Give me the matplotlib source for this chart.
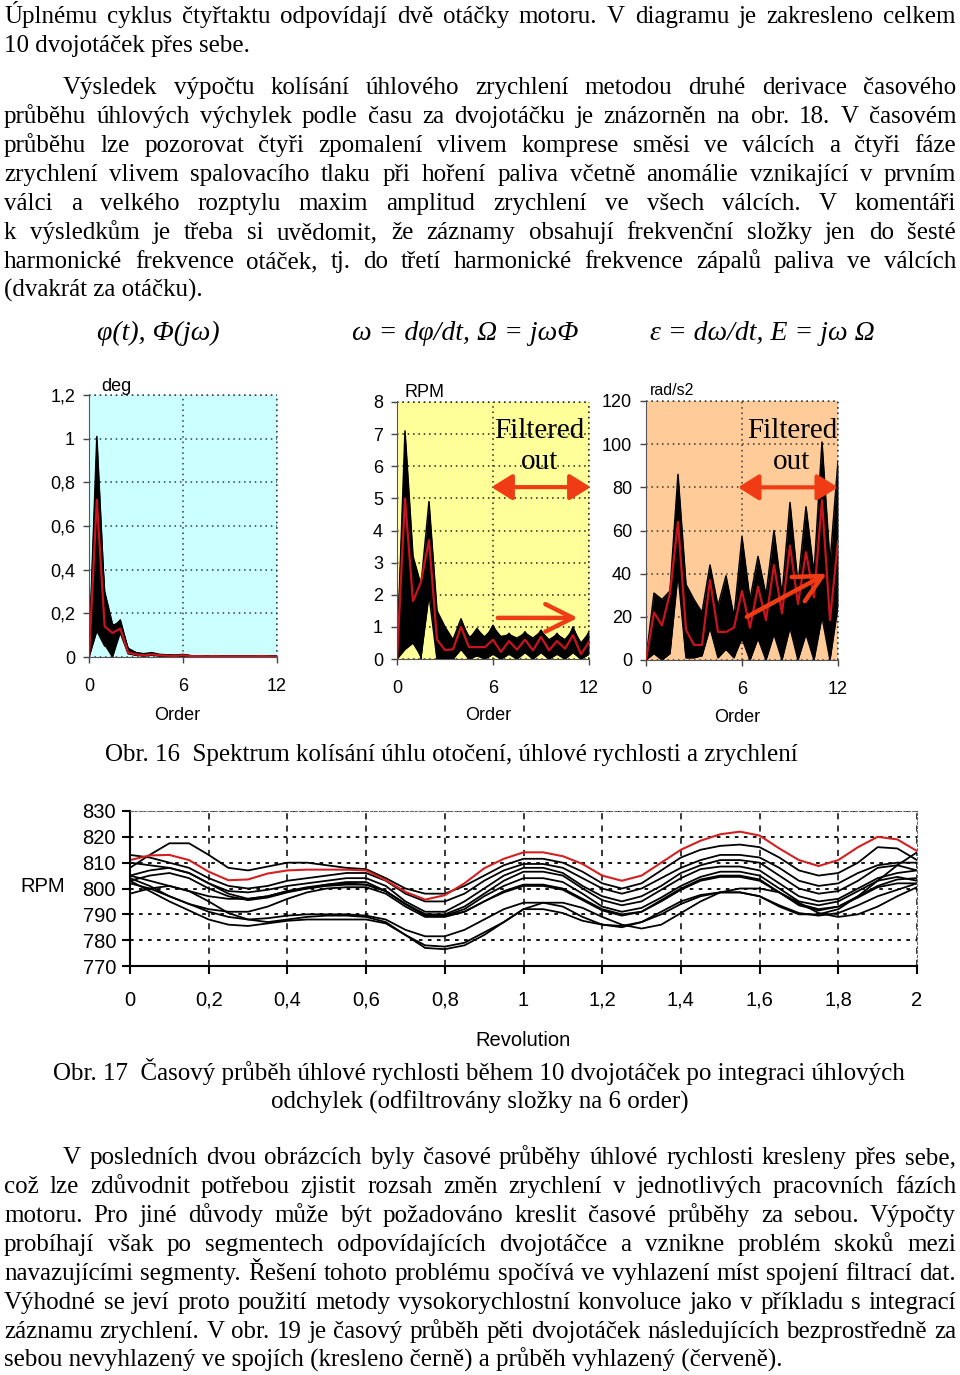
import matplotlib
matplotlib.use("Agg")
import matplotlib.pyplot as plt
import numpy as np

W, H = 960, 1375
SERIF = ["Liberation Serif", "DejaVu Serif"]
SANS = ["Liberation Sans", "DejaVu Sans"]

# ---- page text ----
para1 = [
    "Úplnému cyklus čtyřtaktu odpovídají dvě otáčky motoru. V diagramu je zakresleno celkem",
    "10 dvojotáček přes sebe.",
]
para2 = [
    "Výsledek výpočtu kolísání úhlového zrychlení metodou druhé derivace časového",
    "průběhu úhlových výchylek podle času za dvojotáčku je znázorněn na obr. 18. V časovém",
    "průběhu lze pozorovat čtyři zpomalení vlivem komprese směsi ve válcích a čtyři fáze",
    "zrychlení vlivem spalovacího tlaku při hoření paliva včetně anomálie vznikající v prvním",
    "válci a velkého rozptylu maxim amplitud zrychlení ve všech válcích. V komentáři",
    "k výsledkům je třeba si uvědomit, že záznamy obsahují frekvenční složky jen do šesté",
    "harmonické frekvence otáček, tj. do třetí harmonické frekvence zápalů paliva ve válcích",
    "(dvakrát za otáčku).",
]
para3 = [
    "V posledních dvou obrázcích byly časové průběhy úhlové rychlosti kresleny přes sebe,",
    "což lze zdůvodnit potřebou zjistit rozsah změn zrychlení v jednotlivých pracovních fázích",
    "motoru. Pro jiné důvody může být požadováno kreslit časové průběhy za sebou. Výpočty",
    "probíhají však po segmentech odpovídajících dvojotáčce a vznikne problém skoků mezi",
    "navazujícími segmenty. Řešení tohoto problému spočívá ve vyhlazení míst spojení filtrací dat.",
    "Výhodné se jeví proto použití metody vysokorychlostní konvoluce jako v příkladu s integrací",
    "záznamu zrychlení. V obr. 19 je časový průběh pěti dvojotáček následujících bezprostředně za",
    "sebou nevyhlazený ve spojích (kresleno černě) a průběh vyhlazený (červeně).",
]
formulas = ["φ(t), Φ(jω)", "ω = dφ/dt, Ω = jωΦ", "ε = dω/dt, E = jω Ω"]
caption16 = "Obr. 16  Spektrum kolísání úhlu otočení, úhlové rychlosti a zrychlení"
caption17 = ["Obr. 17  Časový průběh úhlové rychlosti během 10 dvojotáček po integraci úhlových",
             "odchylek (odfiltrovány složky na 6 order)"]

# ---- spectra data (order 0..12, step 0.5) ----
orders = np.arange(0, 12.5, 0.5)

deg_red = [0, 0.72, 0.14, 0.11, 0.13, 0.02, 0.012, 0.008, 0.012, 0.008, 0.006, 0.005, 0.008,
           0.004, 0.004, 0.003, 0.004, 0.003, 0.003, 0.003, 0.003, 0.003, 0.004, 0.003, 0.002]
deg_black = [
    [0, 1.01, 0.26, 0.13, 0.17, 0.035, 0.02, 0.015, 0.02, 0.012, 0.01, 0.008, 0.012,
     0.006, 0.005, 0.004, 0.006, 0.004, 0.004, 0.003, 0.004, 0.004, 0.006, 0.004, 0.003],
    [0, 0.93, 0.2, 0.01, 0.15, 0.03, 0.015, 0.01, 0.018, 0.01, 0.008, 0.006, 0.01,
     0.005, 0.004, 0.004, 0.005, 0.003, 0.003, 0.003, 0.003, 0.003, 0.005, 0.003, 0.002],
    [0, 0.85, 0.1, 0.02, 0.12, 0.025, 0.012, 0.01, 0.015, 0.01, 0.006, 0.006, 0.009,
     0.004, 0.004, 0.003, 0.004, 0.003, 0.003, 0.002, 0.003, 0.003, 0.004, 0.003, 0.002],
    [0, 0.78, 0.3, 0.15, 0.14, 0.04, 0.02, 0.012, 0.016, 0.01, 0.008, 0.007, 0.01,
     0.005, 0.005, 0.004, 0.005, 0.004, 0.003, 0.003, 0.004, 0.003, 0.005, 0.004, 0.003],
    [0, 0.66, 0.06, 0.0, 0.13, 0.02, 0.01, 0.008, 0.012, 0.008, 0.005, 0.005, 0.007,
     0.004, 0.003, 0.003, 0.004, 0.002, 0.002, 0.002, 0.002, 0.002, 0.003, 0.002, 0.002],
    [0, 0.52, 0.22, 0.06, 0.16, 0.03, 0.015, 0.01, 0.014, 0.009, 0.007, 0.006, 0.009,
     0.005, 0.004, 0.003, 0.005, 0.003, 0.003, 0.003, 0.003, 0.003, 0.004, 0.003, 0.002],
    [0, 0.38, 0.16, 0.02, 0.12, 0.025, 0.012, 0.008, 0.012, 0.008, 0.006, 0.005, 0.008,
     0.004, 0.003, 0.003, 0.004, 0.003, 0.002, 0.002, 0.003, 0.002, 0.004, 0.003, 0.002],
    [0, 0.22, 0.12, 0.09, 0.14, 0.02, 0.01, 0.008, 0.01, 0.007, 0.005, 0.004, 0.006,
     0.003, 0.003, 0.002, 0.003, 0.002, 0.002, 0.002, 0.002, 0.002, 0.003, 0.002, 0.001],
    [0, 0.16, 0.08, 0.01, 0.13, 0.02, 0.01, 0.006, 0.01, 0.006, 0.004, 0.004, 0.006,
     0.003, 0.002, 0.002, 0.003, 0.002, 0.002, 0.001, 0.002, 0.002, 0.003, 0.002, 0.001],
    [0, 0.12, 0.05, 0.12, 0.11, 0.015, 0.008, 0.005, 0.008, 0.005, 0.004, 0.003, 0.005,
     0.002, 0.002, 0.002, 0.003, 0.002, 0.001, 0.001, 0.002, 0.001, 0.002, 0.002, 0.001],
]

rpm_red = [0, 5.0, 1.8, 2.4, 3.7, 0.6, 0.28, 0.3, 1.0, 0.37, 0.37, 0.37, 0.6,
           0.22, 0.56, 0.29, 0.6, 0.27, 0.69, 0.27, 0.56, 0.32, 0.74, 0.15, 0.53]
rpm_black = [
    [0, 7.1, 3.2, 2.3, 4.9, 1.5, 1.0, 0.6, 1.25, 0.6, 0.95, 0.6, 1.05,
     0.5, 0.8, 0.5, 0.85, 0.45, 0.9, 0.45, 0.8, 0.4, 1.0, 0.35, 0.85],
    [0, 6.4, 2.6, 0.3, 4.5, 1.2, 0.8, 0.5, 1.1, 0.7, 0.7, 0.7, 0.95,
     0.7, 0.75, 0.65, 0.8, 0.65, 0.85, 0.6, 0.75, 0.6, 0.9, 0.5, 0.8],
    [0, 5.8, 1.0, 2.0, 4.2, 0.9, 0.6, 0.4, 0.9, 0.4, 0.5, 0.45, 0.8,
     0.35, 0.65, 0.35, 0.65, 0.35, 0.75, 0.3, 0.65, 0.3, 0.85, 0.2, 0.6],
    [0, 5.0, 2.2, 0.0, 3.9, 0.5, 0.3, 0.2, 0.8, 0.3, 0.4, 0.3, 0.6,
     0.2, 0.5, 0.2, 0.5, 0.2, 0.55, 0.2, 0.5, 0.2, 0.6, 0.1, 0.45],
    [0, 4.0, 0.6, 1.5, 3.5, 0.3, 0.1, 0.1, 0.6, 0.15, 0.3, 0.2, 0.4,
     0.1, 0.35, 0.1, 0.4, 0.1, 0.45, 0.1, 0.4, 0.1, 0.5, 0.05, 0.35],
    [0, 2.5, 1.4, 0.4, 4.0, 0.1, 0.05, 0.05, 0.45, 0.1, 0.2, 0.1, 0.3,
     0.05, 0.25, 0.05, 0.3, 0.05, 0.35, 0.05, 0.3, 0.05, 0.35, 0.02, 0.25],
    [0, 1.0, 0.8, 1.0, 3.0, 0.05, 0.0, 0.0, 0.35, 0.05, 0.15, 0.05, 0.2,
     0.02, 0.2, 0.02, 0.25, 0.02, 0.25, 0.02, 0.2, 0.02, 0.3, 0.0, 0.2],
    [0, 0.3, 0.5, 0.1, 2.0, 0.0, 0.0, 0.0, 0.3, 0.0, 0.1, 0.0, 0.15,
     0.0, 0.15, 0.0, 0.2, 0.0, 0.2, 0.0, 0.15, 0.0, 0.2, 0.0, 0.15],
]

acc_red = [0, 22, 16, 31, 64, 14, 7, 7, 37, 13, 13, 15, 32,
           15, 34, 18.5, 44, 21.6, 53, 26, 50, 29, 74, 18.5, 55]
acc_black = [
    [0, 31, 28, 32, 86, 35, 28, 22, 44, 25, 39, 20, 57, 28, 48, 30, 60, 30, 73, 35, 71, 40, 101, 45, 92],
    [0, 25, 20, 28, 78, 20, 15, 10, 40, 15, 30, 12, 48, 10, 42, 15, 52, 12, 65, 15, 62, 20, 90, 20, 80],
    [0, 22, 10, 30, 70, 12, 8, 6, 36, 10, 22, 8, 40, 6, 36, 8, 45, 8, 55, 8, 52, 12, 80, 10, 70],
    [0, 18, 25, 20, 65, 10, 20, 5, 30, 12, 15, 5, 32, 4, 30, 5, 38, 5, 48, 5, 45, 6, 70, 5, 60],
    [0, 12, 5, 15, 58, 5, 5, 3, 25, 5, 10, 3, 25, 2, 24, 3, 30, 3, 40, 3, 38, 3, 60, 3, 50],
    [0, 8, 15, 10, 50, 3, 3, 2, 20, 3, 8, 2, 18, 1, 18, 1, 22, 1, 30, 1, 28, 2, 45, 2, 40],
    [0, 5, 2, 5, 45, 2, 2, 3, 16, 2, 5, 1, 12, 0, 12, 1, 15, 1, 20, 1, 18, 1, 30, 1, 30],
    [0, 3, 0, 3, 40, 1, 1, 2, 15, 1, 5, 2, 10, 0, 10, 0, 12, 0, 15, 0, 12, 0, 20, 0, 25],
]

# ---- time record data (revolution 0..2, step 0.05) ----
rev = np.linspace(0, 2, 41)
rpm_time_red = [811, 812.8, 813, 811, 806.5, 803.2, 803.5, 805.8, 807, 807.3,
                807.3, 807.3, 807, 803.2, 798.7, 795.7, 797.4, 802, 807.8, 811.5,
                814, 814, 812.5, 809.5, 805, 803, 805, 810, 815, 818.5,
                821, 822, 820.5, 815.5, 811, 808.7, 811, 816, 820, 819, 814.5]
rpm_time_black = [
    [808, 813, 817.5, 817.5, 813, 808, 807, 808.5, 810, 810,
     809, 808, 807.5, 804, 800, 798, 798, 801, 805, 809,
     811.5, 811.5, 810, 806.5, 802, 800, 802, 807, 812, 815,
     816.5, 817, 816, 812, 807, 805, 806, 810, 816, 815.5, 811],
    [813, 812, 810, 808, 804, 801, 800, 801, 803, 804,
     805, 806, 806, 803, 798, 795, 795, 798, 803, 807,
     809.5, 809.5, 808, 804, 800, 798, 800, 804, 808, 811,
     813, 813, 812, 808, 803, 801, 802, 806, 809, 810, 810],
    [810, 809, 808, 806, 802, 799, 798.5, 799.5, 801, 802,
     803, 804, 804, 801, 795, 791, 791, 795, 800, 805,
     808, 808, 806, 801, 797, 795, 797, 801, 806, 809,
     811, 811, 810, 805, 800, 798, 799, 803, 808, 809, 807],
    [805, 807, 808, 806, 802, 798, 796, 797, 799, 800,
     801.5, 802.5, 802.5, 799, 794, 790, 790, 793, 798, 803,
     806.5, 806.5, 805, 800, 795.5, 793.5, 795, 799.5, 804, 807.5,
     808.5, 808.5, 807, 802, 797, 795, 796, 800, 804, 806, 807],
    [803, 805, 806, 804, 800, 797, 795.5, 796.5, 798.5, 800,
     801, 801.5, 801.5, 799, 794, 789.5, 789.5, 792, 797, 801,
     804, 804, 802.5, 798, 793, 791, 792.5, 796.5, 801, 804.5,
     806.5, 806.5, 805, 800, 795, 793.5, 795, 799, 803, 804.5, 803],
    [805, 803, 801, 799, 797, 796, 796, 797, 799, 800.5,
     801.5, 802, 801.5, 799, 794, 790, 789.5, 791, 795, 799,
     801.5, 801.5, 800, 796, 792, 790, 791, 795, 799.5, 803,
     804.5, 804.5, 803, 798.5, 794, 792, 793, 796.5, 800.5, 802, 802],
    [802, 800, 797, 794, 792, 791, 791, 793, 796, 798.5,
     800, 800.5, 800.5, 798, 793, 789, 789, 791, 795, 798.5,
     801, 801, 799.5, 795.5, 791.5, 789.5, 791, 795.5, 800, 803.5,
     805, 805, 803.5, 798.5, 793.5, 791.5, 793, 797, 801, 803.5, 804],
    [804, 801, 797, 794, 791, 789, 788, 788.5, 789.5, 790,
     790, 790, 789.5, 788, 784, 781.5, 781.5, 784, 788, 792,
     794.5, 794.5, 793, 789, 786, 785, 787, 791, 795, 797.5,
     798.5, 798.5, 797, 793, 790, 790, 792, 797, 803, 809, 814],
    [803, 799, 795, 791.5, 788, 786, 785.5, 786.5, 787.5, 788,
     788, 788, 788, 786.5, 782, 778, 777.5, 779, 783, 787,
     792, 792, 790.5, 787.5, 786, 785.5, 787, 790, 794, 797,
     798.5, 798.5, 797, 793.5, 790.5, 789.5, 790.5, 793.5, 797, 799.5, 802],
    [798, 800, 801, 799, 795, 790.5, 788, 787, 788, 789,
     789.5, 789.5, 789, 787, 782, 777, 776.5, 778, 782, 787,
     792, 794.5, 794.5, 792.5, 789, 786, 784.5, 786, 790.5, 795,
     798.5, 800, 800, 798.5, 794.5, 790.5, 789, 790, 793, 797, 800.5],
]

fig = plt.figure(figsize=(9.6, 13.75), dpi=100)
renderer = fig.canvas.get_renderer()


def fx(x):
    return x / W


def fy(y):
    return 1 - y / H


def put_line(text, base, x0=4, x1=956, justify=True, size=18):
    words = text.split(" ")
    if not justify or len(words) == 1:
        fig.text(fx(x0), fy(base), text, fontsize=size, family=SERIF, va="baseline")
        return
    arts = [fig.text(0, fy(base), w, fontsize=size, family=SERIF, va="baseline") for w in words]
    widths = [a.get_window_extent(renderer).width for a in arts]
    gap = (x1 - x0 - sum(widths)) / (len(words) - 1)
    x = x0
    for a, w in zip(arts, widths):
        a.set_x(fx(x))
        x += w + gap


def paragraph(lines, base0, indent):
    for i, line in enumerate(lines):
        x0 = 4 + indent if i == 0 else 4
        put_line(line, base0 + 29 * i, x0=x0, justify=(i < len(lines) - 1))


paragraph(para1, 23, 0)
paragraph(para2, 94, 59)
paragraph(para3, 1164, 59)

for txt, x in zip(formulas, [97, 352, 650]):
    fig.text(fx(x), fy(333), txt, fontsize=20, family=SERIF, style="italic", va="center")

fig.text(fx(105), fy(761), caption16, fontsize=18, family=SERIF, va="baseline")
fig.text(fx(53), fy(1080), caption17[0], fontsize=18, family=SERIF, va="baseline")
fig.text(fx(480), fy(1109), caption17[1], fontsize=18, family=SERIF, va="baseline", ha="center")

ARROW = "#f03c14"


def spectrum(box, ymax, ystep, black, red, face, gridc):
    l, t, r, b = box
    ax = fig.add_axes([fx(l), fy(b), (r - l) / W, (b - t) / H])
    ax.set_facecolor(face)
    ax.set_xlim(0, 12)
    ax.set_ylim(0, ymax)
    black = np.array(black)
    ax.fill_between(orders, black.min(axis=0), black.max(axis=0), color="black", lw=0, zorder=2)
    for row in black:
        ax.plot(orders, row, color="black", lw=1.1, zorder=2)
    ax.plot(orders, red, color="#c8141e", lw=1.6, zorder=3)
    yt = np.arange(0, ymax + ystep / 2, ystep)
    ax.set_yticks(yt)
    ax.set_yticklabels([f"{v:g}".replace(".", ",") for v in yt])
    ax.set_xticks([0, 6, 12])
    ax.tick_params(axis="both", labelsize=13, length=4, color="#444", width=1)
    ax.tick_params(axis="x", pad=11)
    ax.tick_params(axis="y", pad=6)
    for lab in ax.get_xticklabels() + ax.get_yticklabels():
        lab.set_family(SANS)
    ax.grid(True, color=gridc, ls=(0, (1, 2.5)), lw=1.1)
    for s in ["top", "right"]:
        ax.spines[s].set_visible(False)
    for s in ["left", "bottom"]:
        ax.spines[s].set_color("#555")
    ax.axhline(ymax, color=gridc, ls=(0, (1, 2.5)), lw=1.1, clip_on=False)
    ax.axvline(12, color=gridc, ls=(0, (1, 2.5)), lw=1.1, clip_on=False)
    return ax


ax1 = spectrum((89, 395, 277, 657), 1.2, 0.2, deg_black, deg_red, "#ccffff", "#2a3a5a")
ax2 = spectrum((397, 402, 589, 659), 8, 1, rpm_black, rpm_red, "#ffff99", "#222222")
ax3 = spectrum((646, 401, 838, 660), 120, 20, acc_black, acc_red, "#ffcc99", "#333333")

fig.text(fx(101), fy(387), "deg", fontsize=13, family=SANS, va="center")
fig.text(fx(404), fy(393), "RPM", fontsize=13, family=SANS, va="center")
fig.text(fx(650), fy(390), "rad/s2", fontsize=11.5, family=SANS, va="center")
for x, y in [(177, 716), (488, 716), (737, 718)]:
    fig.text(fx(x), fy(y), "Order", fontsize=13, family=SANS, ha="center", va="center")

for x in [539, 792]:
    fig.text(fx(x), fy(431), "Filtered", fontsize=21, family=SERIF, ha="center", va="center")
    fig.text(fx(x), fy(462), "out", fontsize=21, family=SERIF, ha="center", va="center")

ax2.annotate("", xy=(12.1, 5.35), xytext=(5.9, 5.35), annotation_clip=False,
             arrowprops=dict(arrowstyle="<|-|>,head_length=0.45,head_width=0.28",
                             color=ARROW, lw=3, mutation_scale=28, shrinkA=0, shrinkB=0))
ax3.annotate("", xy=(12.0, 80), xytext=(5.75, 80), annotation_clip=False,
             arrowprops=dict(arrowstyle="<|-|>,head_length=0.45,head_width=0.28",
                             color=ARROW, lw=3, mutation_scale=28, shrinkA=0, shrinkB=0))
ax2.annotate("", xy=(11.3, 1.28), xytext=(6.3, 1.28), annotation_clip=False,
             arrowprops=dict(arrowstyle="->,head_length=0.9,head_width=0.45",
                             color=ARROW, lw=3.2, mutation_scale=22, shrinkA=0, shrinkB=0))
ax3.annotate("", xy=(11.3, 40), xytext=(6.3, 20), annotation_clip=False,
             arrowprops=dict(arrowstyle="->,head_length=0.9,head_width=0.45",
                             color=ARROW, lw=3.2, mutation_scale=22, shrinkA=0, shrinkB=0))

# ---- time record ----
axt = fig.add_axes([fx(130), fy(966), (917 - 130) / W, (966 - 811) / H])
axt.set_xlim(0, 2)
axt.set_ylim(770, 830)
for row in rpm_time_black:
    axt.plot(rev, row, color="black", lw=1.3)
axt.plot(rev, rpm_time_red, color="#d42020", lw=1.5)
xt = np.round(np.arange(0, 2.01, 0.2), 1)
axt.set_xticks(xt)
axt.set_xticklabels([f"{v:g}".replace(".", ",") for v in xt])
axt.set_yticks(np.arange(770, 831, 10))
axt.tick_params(axis="both", labelsize=14.5, length=6, width=1.5)
axt.tick_params(axis="x", pad=12)
axt.tick_params(axis="y", pad=4)
for lab in axt.get_xticklabels() + axt.get_yticklabels():
    lab.set_family(SANS)
axt.xaxis.grid(True, color="black", ls=(0, (4, 4)), lw=1.1)
axt.yaxis.grid(True, color="black", ls=(0, (2, 3)), lw=1.3)
for s in ["left", "bottom"]:
    axt.spines[s].set_linewidth(1.5)
for s in ["top", "right"]:
    axt.spines[s].set_linestyle((0, (2, 2)))
    axt.spines[s].set_color("#666")
fig.text(fx(20), fy(886), "RPM", fontsize=14.5, family=SANS, va="center")
fig.text(fx(523), fy(1041), "Revolution", fontsize=14.5, family=SANS, ha="center", va="center")

fig.savefig("out.png", dpi=100, facecolor="white")
